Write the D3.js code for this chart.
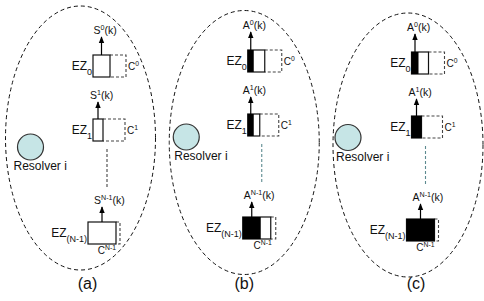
<!DOCTYPE html>
<html>
<head>
<meta charset="utf-8">
<script src="https://cdn.jsdelivr.net/npm/d3@7"></script>
<style>
  body { margin: 0; background: #fff; }
  svg { display: block; font-family: Arial, "Liberation Sans", sans-serif; }
</style>
</head>
<body>
<div id="chart"></div>
<script>
// panels and zones
const panels = ["(a)", "(b)", "(c)"];
const arrowLetter = ["S", "A", "A"];
const zones = ["0", "1", "(N-1)"];
const zoneSup = ["0", "1", "N-1"];
// capacity C, size of zone, and allocated (black) part, per panel per zone
const capacity = [[33, 32, 32], [34, 31, 33], [33, 31, 32]];
const zoneSize = [[17, 10, 28], [17, 12, 28], [17, 10, 28]];
const allocated = [[0, 0, 0], [6, 6, 18], [7, 10, 28]];

const width = 484, height = 301;

// layout
const ellCy = [138, 142.5, 145];
const boxDx = [12.5, 3.5, 3.5];
const rowDx = [0, 0, -5];
const rowTop = [52, 116, 219];
const panelDy = [3, -2, 0];
const arrowLen = [18, 17, 15];
const circleDx = [-50, -58, -60];
const circleCy = [147, 137, 137.5];
const labelDx = [7, 0, 8];
const boxH = 22;

const svg = d3.select("#chart").append("svg")
  .attr("width", width).attr("height", height);

const panelX = d3.scaleLinear().domain([0, 2]).range([80.5, 408]);
const w = d3.scaleLinear().domain([0, 40]).range([0, 40]);

svg.append("defs").append("marker")
  .attr("id", "arr")
  .attr("viewBox", "0 0 10 10")
  .attr("refX", 9).attr("refY", 5)
  .attr("markerWidth", 6).attr("markerHeight", 6)
  .attr("orient", "auto")
  .append("path").attr("d", "M0,1 L10,5 L0,9 z").attr("fill", "#000");

function supText(t, main, sup, tail, fs) {
  t.append("tspan").text(main);
  t.append("tspan").attr("dy", -fs * 0.42).attr("font-size", fs * 0.68).text(sup);
  if (tail) t.append("tspan").attr("dy", fs * 0.42).text(tail);
}

panels.forEach(function(name, p) {
  const cx = panelX(p);
  const g = svg.append("g");

  g.append("ellipse")
    .attr("cx", cx).attr("cy", ellCy[p])
    .attr("rx", 75).attr("ry", 132)
    .attr("fill", "none").attr("stroke", "#111")
    .attr("stroke-width", 1).attr("stroke-dasharray", "4,3");

  // resolver
  const rcx = cx + circleDx[p];
  g.append("circle")
    .attr("cx", rcx).attr("cy", circleCy[p]).attr("r", 13)
    .attr("fill", "#c6e5e6").attr("stroke", "#333").attr("stroke-width", 1.2);
  g.append("text")
    .attr("x", rcx - 17 + (p > 0 ? 5 : 0)).attr("y", circleCy[p] + 23)
    .attr("font-size", 12).attr("fill", "#111")
    .text("Resolver i");

  zones.forEach(function(z, r) {
    const x0 = cx + boxDx[p] + rowDx[r];
    const y0 = rowTop[r] + panelDy[p];
    const sw = w(zoneSize[p][r]);
    const cw = w(capacity[p][r]);
    const aw = w(allocated[p][r]);

    // capacity (dashed)
    g.append("path")
      .attr("d", `M${x0 + sw},${y0}H${x0 + cw}V${y0 + boxH}H${x0 + sw}`)
      .attr("fill", "none").attr("stroke", "#444")
      .attr("stroke-width", 1.1).attr("stroke-dasharray", "3,2");

    // zone box
    g.append("rect")
      .attr("x", x0).attr("y", y0).attr("width", sw).attr("height", boxH)
      .attr("fill", "#fff").attr("stroke", "#111").attr("stroke-width", 1.2);
    if (aw > 0) {
      g.append("rect")
        .attr("x", x0).attr("y", y0).attr("width", aw).attr("height", boxH)
        .attr("fill", "#000");
    }

    // arrow
    const ax = x0 + (aw > 0 ? aw / 2 : sw / 2);
    g.append("line")
      .attr("x1", ax).attr("y1", y0)
      .attr("x2", ax).attr("y2", y0 - arrowLen[r])
      .attr("stroke", "#000").attr("stroke-width", 1.2)
      .attr("marker-end", "url(#arr)");
    const at = g.append("text")
      .attr("x", ax - 8).attr("y", y0 - arrowLen[r] - 3)
      .attr("font-size", 10.5).attr("fill", "#111");
    supText(at, arrowLetter[p], zoneSup[r], "(k)", 10.5);

    // EZ label
    const ez = g.append("text")
      .attr("x", x0 - 1).attr("y", y0 + boxH - 7)
      .attr("text-anchor", "end")
      .attr("font-size", 12).attr("fill", "#111");
    ez.append("tspan").text("EZ");
    ez.append("tspan").attr("dy", 5).attr("font-size", 9).text(z);

    // capacity label
    let ct;
    if (r < 2) {
      ct = g.append("text")
        .attr("x", x0 + cw + 2).attr("y", y0 + boxH / 2 + 4)
        .attr("font-size", 10).attr("fill", "#111");
    } else {
      ct = g.append("text")
        .attr("x", x0 + cw - 4).attr("y", y0 + boxH + 10)
        .attr("text-anchor", "end")
        .attr("font-size", 10).attr("fill", "#111");
    }
    supText(ct, "C", zoneSup[r], null, 10);
  });

  // continuation line between EZ1 and EZ(N-1)
  const lx = cx + boxDx[p] + 14;
  g.append("line")
    .attr("x1", lx).attr("y1", rowTop[1] + panelDy[p] + boxH + 8)
    .attr("x2", lx).attr("y2", rowTop[2] + panelDy[p] - 34)
    .attr("stroke", p === 0 ? "#444" : "#5d8a90")
    .attr("stroke-width", 1.1).attr("stroke-dasharray", "3,2");

  g.append("text")
    .attr("x", cx + labelDx[p]).attr("y", 289)
    .attr("text-anchor", "middle")
    .attr("font-size", 16).attr("fill", "#111")
    .text(name);
});
</script>
</body>
</html>
